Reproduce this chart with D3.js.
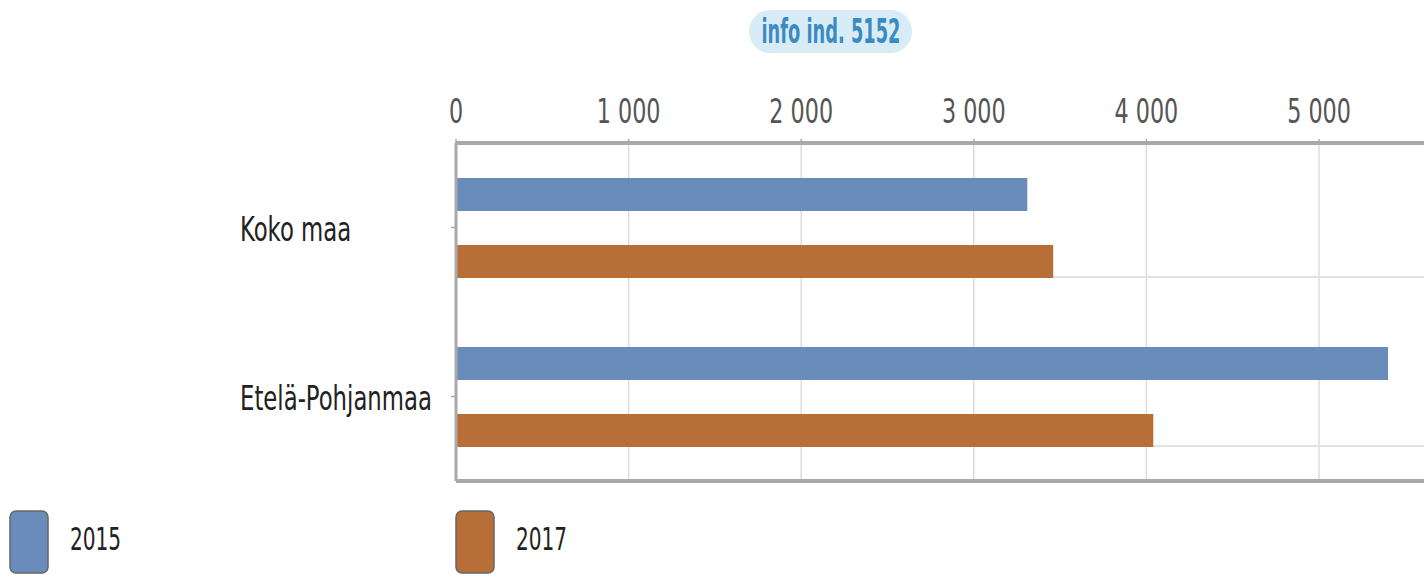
<!DOCTYPE html>
<html>
<head>
<meta charset="utf-8">
<style>
    body { margin: 0; background: #fff; }
    text { font-family: "DejaVu Sans", sans-serif; font-stretch: condensed; }
</style>
</head>
<body>
<svg id="chart" width="1424" height="575"></svg>
<script src="https://cdn.jsdelivr.net/npm/d3@7/dist/d3.min.js"></script>
<script>
    // data
    let categories = ["Koko maa", "Etelä-Pohjanmaa"]
    let years = ["2015", "2017"]
    let values2015 = [3310, 5400]
    let values2017 = [3460, 4040]
    let tickValues = [0, 1000, 2000, 3000, 4000, 5000]
    let colors = ["#6a8cba", "#b86e37"]

    let svg = d3.select("#chart")

    let plotLeft = 456, plotRight = 1424, plotTop = 143, plotBottom = 481
    let squeeze = 0.75   // text in the original is tall and narrow

    let xScale = d3.scaleLinear().domain([0, 1000]).range([plotLeft, plotLeft + 172.6])
    let yScale = d3.scaleBand().domain(categories).range([plotTop, plotBottom])

    let fmt = d => d3.format(",")(d).replace(/,/g, " ")
    let place = (x, y, sx) => `translate(${x},${y}) scale(${sx},1)`

    // info badge
    let badge = svg.append("g")
    badge.append("rect")
        .attr("x", 749).attr("y", 10).attr("width", 163).attr("height", 43)
        .attr("rx", 21).attr("fill", "#d8ecf6")
    badge.append("text")
        .attr("transform", place(831, 43, 0.6)).attr("text-anchor", "middle")
        .attr("font-size", 33).attr("font-weight", "bold").attr("fill", "#3b8bc2")
        .text("info ind. 5152")

    // vertical grid
    svg.append("g").selectAll("line")
        .data(tickValues.slice(1))
        .join("line")
        .attr("x1", d => xScale(d)).attr("x2", d => xScale(d))
        .attr("y1", plotTop).attr("y2", plotBottom)
        .attr("stroke", "#dcdcdc").attr("stroke-width", 1.5)

    // horizontal light lines below each group
    svg.append("g").selectAll("line")
        .data(categories)
        .join("line")
        .attr("x1", plotLeft).attr("x2", plotRight)
        .attr("y1", d => yScale(d) + yScale.bandwidth() - 35)
        .attr("y2", d => yScale(d) + yScale.bandwidth() - 35)
        .attr("stroke", "#e2e2e2").attr("stroke-width", 2)

    // bars
    let rows = categories.map((c, i) => ({ cat: c, vals: [values2015[i], values2017[i]] }))
    let barH = 33
    let offsets = [35, 102]
    rows.forEach(r => {
        r.vals.forEach((v, j) => {
            svg.append("rect")
                .attr("x", xScale(0))
                .attr("y", yScale(r.cat) + offsets[j])
                .attr("width", xScale(v) - xScale(0))
                .attr("height", barH)
                .attr("fill", colors[j])
        })
    })

    // axes lines
    svg.append("line").attr("x1", plotLeft).attr("x2", plotRight).attr("y1", plotTop).attr("y2", plotTop)
        .attr("stroke", "#a9a9a9").attr("stroke-width", 4)
    svg.append("line").attr("x1", plotLeft).attr("x2", plotRight).attr("y1", plotBottom).attr("y2", plotBottom)
        .attr("stroke", "#a9a9a9").attr("stroke-width", 4)
    svg.append("line").attr("x1", plotLeft).attr("x2", plotLeft).attr("y1", plotTop).attr("y2", plotBottom)
        .attr("stroke", "#a9a9a9").attr("stroke-width", 3)

    // top tick marks and labels
    svg.append("g").selectAll("line")
        .data(tickValues)
        .join("line")
        .attr("x1", d => xScale(d)).attr("x2", d => xScale(d))
        .attr("y1", plotTop - 4).attr("y2", plotTop)
        .attr("stroke", "#a9a9a9").attr("stroke-width", 1.5)
    svg.append("g").selectAll("text")
        .data(tickValues)
        .join("text")
        .attr("transform", d => place(xScale(d), 123, squeeze))
        .attr("text-anchor", "middle")
        .attr("font-size", 33).attr("fill", "#555")
        .text(fmt)

    // category labels + ticks
    svg.append("g").selectAll("text")
        .data(categories)
        .join("text")
        .attr("transform", d => place(240, yScale(d) + yScale.bandwidth() / 2 + 13.5, 0.745))
        .attr("font-size", 34).attr("fill", "#222")
        .text(d => d)
    svg.append("g").selectAll("line")
        .data(categories)
        .join("line")
        .attr("x1", plotLeft - 5).attr("x2", plotLeft)
        .attr("y1", d => yScale(d) + yScale.bandwidth() / 2)
        .attr("y2", d => yScale(d) + yScale.bandwidth() / 2)
        .attr("stroke", "#a9a9a9").attr("stroke-width", 1.5)

    // legend
    let legendX = [10, 456]
    years.forEach((y, i) => {
        svg.append("rect")
            .attr("x", legendX[i]).attr("y", 511).attr("width", 38).attr("height", 62)
            .attr("rx", 6).attr("fill", colors[i]).attr("stroke", "#666").attr("stroke-width", 1.5)
        svg.append("text")
            .attr("transform", place(legendX[i] + 60, 550, 0.71))
            .attr("font-size", 31.5).attr("fill", "#222")
            .text(y)
    })
</script>
</body>
</html>
